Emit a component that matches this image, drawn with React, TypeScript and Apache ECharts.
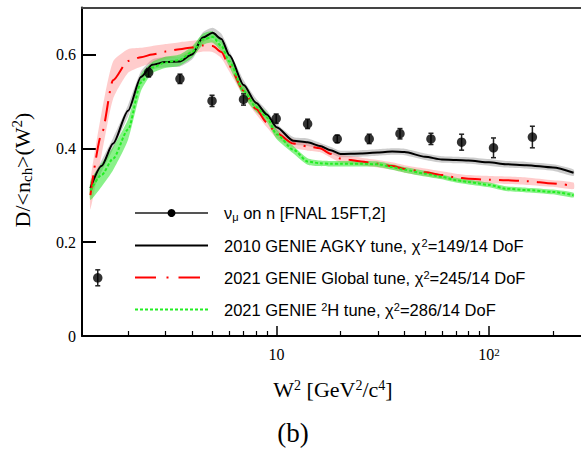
import React, { useEffect, useRef } from "react";
import * as echarts from "echarts";

// Model curves (W^2 grid in GeV^2/c^4)
const curveW2 = [1.33, 1.5, 1.7, 2.0, 2.3, 2.6, 3.0, 3.5, 4.0, 4.5, 5.0, 5.5, 6.0, 7.0, 8.0, 9.0, 10, 12, 14, 16, 18, 20, 25, 30, 35, 40, 50, 60, 70, 80, 100, 120, 150, 200, 250];
const agky2010 = [0.315, 0.362, 0.410, 0.480, 0.552, 0.578, 0.584, 0.585, 0.600, 0.636, 0.646, 0.633, 0.598, 0.535, 0.497, 0.472, 0.445, 0.416, 0.413, 0.405, 0.396, 0.388, 0.389, 0.391, 0.393, 0.392, 0.382, 0.376, 0.375, 0.374, 0.370, 0.366, 0.364, 0.359, 0.348];
const agky2010Err = [0.012, 0.012, 0.012, 0.012, 0.012, 0.011, 0.011, 0.011, 0.011, 0.011, 0.011, 0.011, 0.010, 0.010, 0.009, 0.009, 0.008, 0.008, 0.008, 0.007, 0.007, 0.007, 0.007, 0.007, 0.007, 0.007, 0.007, 0.007, 0.007, 0.007, 0.007, 0.007, 0.007, 0.007, 0.007];
const global2021 = [0.300, 0.430, 0.545, 0.586, 0.594, 0.600, 0.606, 0.611, 0.615, 0.619, 0.618, 0.605, 0.575, 0.522, 0.484, 0.455, 0.432, 0.410, 0.404, 0.400, 0.388, 0.378, 0.372, 0.367, 0.362, 0.356, 0.349, 0.343, 0.338, 0.335, 0.333, 0.332, 0.330, 0.325, 0.320];
const global2021Err = [0.030, 0.045, 0.040, 0.025, 0.020, 0.018, 0.016, 0.015, 0.014, 0.013, 0.013, 0.013, 0.012, 0.012, 0.011, 0.010, 0.010, 0.009, 0.009, 0.008, 0.008, 0.008, 0.008, 0.008, 0.008, 0.008, 0.008, 0.008, 0.008, 0.008, 0.008, 0.008, 0.008, 0.007, 0.007];
const deut2021 = [0.310, 0.343, 0.378, 0.440, 0.540, 0.572, 0.583, 0.588, 0.605, 0.632, 0.637, 0.618, 0.585, 0.522, 0.488, 0.466, 0.430, 0.397, 0.372, 0.368, 0.367, 0.367, 0.367, 0.366, 0.360, 0.354, 0.346, 0.339, 0.332, 0.328, 0.322, 0.314, 0.311, 0.307, 0.300];
const deut2021Err = [0.020, 0.025, 0.025, 0.022, 0.018, 0.012, 0.012, 0.012, 0.012, 0.012, 0.012, 0.012, 0.012, 0.012, 0.010, 0.010, 0.010, 0.008, 0.007, 0.006, 0.006, 0.006, 0.006, 0.006, 0.006, 0.006, 0.006, 0.005, 0.005, 0.005, 0.005, 0.005, 0.005, 0.005, 0.005];

// FNAL 15FT data
const dataW2 = [1.44, 2.5, 3.51, 4.97, 6.99, 9.96, 14.0, 19.3, 27.3, 38.1, 53.3, 74.3, 105, 160];
const dataD = [0.124, 0.561, 0.548, 0.501, 0.504, 0.463, 0.452, 0.420, 0.420, 0.431, 0.420, 0.413, 0.401, 0.424];
const dataErr = [0.017, 0.009, 0.010, 0.012, 0.012, 0.010, 0.010, 0.008, 0.010, 0.011, 0.012, 0.017, 0.021, 0.023];

// Axis ticks
const majorTicks = [10, 100];
const minorTicks = [2, 3, 4, 5, 6, 7, 8, 9, 20, 30, 40, 50, 60, 70, 80, 90, 200];
const xMin = 1.214;
const xMax = 271;

const SERIF = "Liberation Serif, Times New Roman, serif";
const SANS = "Liberation Sans, Arial, Helvetica, sans-serif";

function bandSeries(ys: number[], errs: number[], fill: string) {
  return {
    type: "custom",
    xAxisIndex: 0,
    yAxisIndex: 0,
    silent: true,
    z: 1,
    data: [[10, 0.5]],
    encode: { x: 0, y: 1 },
    renderItem: (_params: any, api: any) => {
      const pts: number[][] = [];
      for (let i = 0; i < curveW2.length; i++) pts.push(api.coord([curveW2[i], ys[i] + errs[i]]));
      for (let i = curveW2.length - 1; i >= 0; i--) pts.push(api.coord([curveW2[i], ys[i] - errs[i]]));
      return { type: "polygon", shape: { points: pts, smooth: 0.2 }, style: { fill, stroke: "none" } };
    },
  };
}

function lineSeries(ys: number[], color: string, type: any, width: number, z: number) {
  return {
    type: "line",
    xAxisIndex: 0,
    yAxisIndex: 0,
    data: curveW2.map((w, i) => [w, ys[i]]),
    showSymbol: false,
    smooth: 0.25,
    smoothMonotone: "x",
    silent: true,
    z,
    lineStyle: { color, width, type },
  };
}

export default function App() {
  const ref = useRef<HTMLDivElement>(null);
  useEffect(() => {
    if (!ref.current) return;
    const chart = echarts.init(ref.current, undefined, { renderer: "svg" });
    const LF = 16.5;
    const legendText = { fontFamily: SANS, fontSize: LF, fill: "#000", verticalAlign: "middle" };
    const legendRich = {
      t: { fontFamily: SANS, fontSize: LF, fill: "#000", verticalAlign: "middle" },
      sub: { fontFamily: SANS, fontSize: 11, fill: "#000", verticalAlign: "bottom", padding: [8, 0, 0, 0] },
      sup: { fontFamily: SANS, fontSize: 11, fill: "#000", verticalAlign: "top", padding: [0, 0, 6, 0] },
    };
    const rowY = [213, 245.5, 277.5, 309.5];
    chart.setOption({
      animation: false,
      backgroundColor: "#fff",
      grid: { left: 82, right: 0, top: 7.5, bottom: 113 },
      xAxis: [
        {
          type: "log",
          min: xMin,
          max: xMax,
          position: "bottom",
          axisLine: { show: true, onZero: false, lineStyle: { color: "#000", width: 2 } },
          axisTick: { show: true, inside: true, length: 10, customValues: majorTicks, lineStyle: { color: "#000", width: 1.5 } },
          axisLabel: {
            show: true,
            customValues: majorTicks,
            margin: 10,
            fontFamily: SERIF,
            fontSize: 16,
            color: "#000",
            formatter: (v: number) => (v === 10 ? "{b|10}" : "{b|10}{s|2}"),
            rich: {
              b: { fontFamily: SERIF, fontSize: 16, color: "#000" },
              s: { fontFamily: SERIF, fontSize: 11, color: "#000", verticalAlign: "top", padding: [0, 0, 6, 0] },
            },
          },
          splitLine: { show: false },
          minorTick: { show: false },
        },
        {
          type: "log",
          min: xMin,
          max: xMax,
          position: "bottom",
          axisLine: { show: false },
          axisTick: { show: true, inside: true, length: 5, customValues: minorTicks, lineStyle: { color: "#000", width: 1.2 } },
          axisLabel: { show: false },
          splitLine: { show: false },
        },
        {
          type: "log",
          min: xMin,
          max: xMax,
          position: "top",
          axisLine: { show: true, lineStyle: { color: "#444", width: 2 } },
          axisTick: { show: false },
          axisLabel: { show: false },
          splitLine: { show: false },
        },
      ],
      yAxis: {
        type: "value",
        min: 0,
        max: 0.7,
        interval: 0.2,
        axisLine: { show: true, lineStyle: { color: "#000", width: 2 } },
        axisTick: { show: true, inside: true, length: 14, lineStyle: { color: "#000", width: 2 } },
        axisLabel: {
          margin: 6,
          fontFamily: SERIF,
          fontSize: 16,
          color: "#000",
          showMaxLabel: false,
          formatter: (v: number) => (v === 0 ? "0" : v.toFixed(1)),
        },
        splitLine: { show: false },
      },
      series: [
        bandSeries(agky2010, agky2010Err, "rgba(110,110,110,0.35)"),
        bandSeries(global2021, global2021Err, "rgba(255,120,120,0.38)"),
        bandSeries(deut2021, deut2021Err, "rgba(40,230,40,0.55)"),
        lineSeries(agky2010, "#000000", "solid", 2, 5),
        lineSeries(global2021, "#ff0000", [20, 8, 2, 8], 2, 6),
        lineSeries(deut2021, "#22ee22", [3, 2], 2, 7),
        {
          type: "custom",
          xAxisIndex: 0,
          yAxisIndex: 0,
          silent: true,
          z: 9,
          data: dataW2.map((w, i) => [w, dataD[i], dataErr[i]]),
          encode: { x: 0, y: 1 },
          renderItem: (_p: any, api: any) => {
            const x = api.value(0);
            const y = api.value(1);
            const e = api.value(2);
            const top = api.coord([x, y + e]);
            const bot = api.coord([x, y - e]);
            const st = { stroke: "#222", lineWidth: 1.5 };
            return {
              type: "group",
              children: [
                { type: "line", shape: { x1: top[0], y1: top[1], x2: bot[0], y2: bot[1] }, style: st },
                { type: "line", shape: { x1: top[0] - 2.5, y1: top[1], x2: top[0] + 2.5, y2: top[1] }, style: st },
                { type: "line", shape: { x1: bot[0] - 2.5, y1: bot[1], x2: bot[0] + 2.5, y2: bot[1] }, style: st },
              ],
            };
          },
        },
        {
          type: "scatter",
          xAxisIndex: 0,
          yAxisIndex: 0,
          silent: true,
          z: 10,
          symbol: "circle",
          symbolSize: 9.5,
          itemStyle: { color: "#000" },
          data: dataW2.map((w, i) => [w, dataD[i]]),
        },
      ],
      graphic: [
        // legend row 1
        { type: "line", shape: { x1: 135, y1: rowY[0], x2: 208, y2: rowY[0] }, style: { stroke: "#555", lineWidth: 2 }, z: 20 },
        { type: "circle", shape: { cx: 171.5, cy: rowY[0], r: 4 }, style: { fill: "#000" }, z: 21 },
        { type: "text", x: 224, y: rowY[0], z: 20, style: { ...legendText, text: "{t|ν}{sub|μ}{t| on n [FNAL 15FT,2]}", rich: legendRich } },
        // legend row 2
        { type: "line", shape: { x1: 135, y1: rowY[1], x2: 208, y2: rowY[1] }, style: { stroke: "#000", lineWidth: 2 }, z: 20 },
        { type: "text", x: 224, y: rowY[1], z: 20, style: { ...legendText, text: "{t|2010 GENIE AGKY tune, χ}{sup|2}{t|=149/14 DoF}", rich: legendRich } },
        // legend row 3
        { type: "line", shape: { x1: 135, y1: rowY[2], x2: 156, y2: rowY[2] }, style: { stroke: "#ff0000", lineWidth: 2 }, z: 20 },
        { type: "line", shape: { x1: 166.5, y1: rowY[2], x2: 168.5, y2: rowY[2] }, style: { stroke: "#ff0000", lineWidth: 2 }, z: 20 },
        { type: "line", shape: { x1: 178.5, y1: rowY[2], x2: 200, y2: rowY[2] }, style: { stroke: "#ff0000", lineWidth: 2 }, z: 20 },
        { type: "text", x: 224, y: rowY[2], z: 20, style: { ...legendText, text: "{t|2021 GENIE Global tune, χ}{sup|2}{t|=245/14 DoF}", rich: legendRich } },
        // legend row 4
        { type: "line", shape: { x1: 135, y1: rowY[3], x2: 208, y2: rowY[3] }, style: { stroke: "#22ee22", lineWidth: 2, lineDash: [3, 2] }, z: 20 },
        { type: "text", x: 224, y: rowY[3], z: 20, style: { ...legendText, text: "{t|2021 GENIE }{sup|2}{t|H tune, χ}{sup|2}{t|=286/14 DoF}", rich: legendRich } },
        // axis titles
        {
          type: "text",
          x: 333,
          y: 389,
          style: {
            text: "{b|W}{s|2}{b| [GeV}{s|2}{b|/c}{s|4}{b|]}",
            align: "center",
            verticalAlign: "middle",
            fontFamily: SERIF,
            fontSize: 22,
            fill: "#000",
            rich: {
              b: { fontFamily: SERIF, fontSize: 22, fill: "#000" },
              s: { fontFamily: SERIF, fontSize: 14, fill: "#000", verticalAlign: "top", padding: [0, 0, 8, 0] },
            },
          },
        },
        {
          type: "text",
          x: 22,
          y: 170,
          rotation: Math.PI / 2,
          style: {
            text: "{b|D/<n}{sub|ch}{b|>(W}{s|2}{b|)}",
            align: "center",
            verticalAlign: "middle",
            fontFamily: SERIF,
            fontSize: 22,
            fill: "#000",
            rich: {
              b: { fontFamily: SERIF, fontSize: 22, fill: "#000" },
              sub: { fontFamily: SERIF, fontSize: 15, fill: "#000", verticalAlign: "bottom", padding: [10, 0, 0, 0] },
              s: { fontFamily: SERIF, fontSize: 15, fill: "#000", verticalAlign: "top", padding: [0, 0, 8, 0] },
            },
          },
        },
        {
          type: "text",
          x: 293,
          y: 433,
          style: { text: "(b)", align: "center", verticalAlign: "middle", fontFamily: SERIF, fontSize: 27, fill: "#000" },
        },
      ],
    });
    return () => chart.dispose();
  }, []);
  return <div ref={ref} style={{ position: "absolute", left: 0, top: 0, width: 581, height: 449 }} />;
}
